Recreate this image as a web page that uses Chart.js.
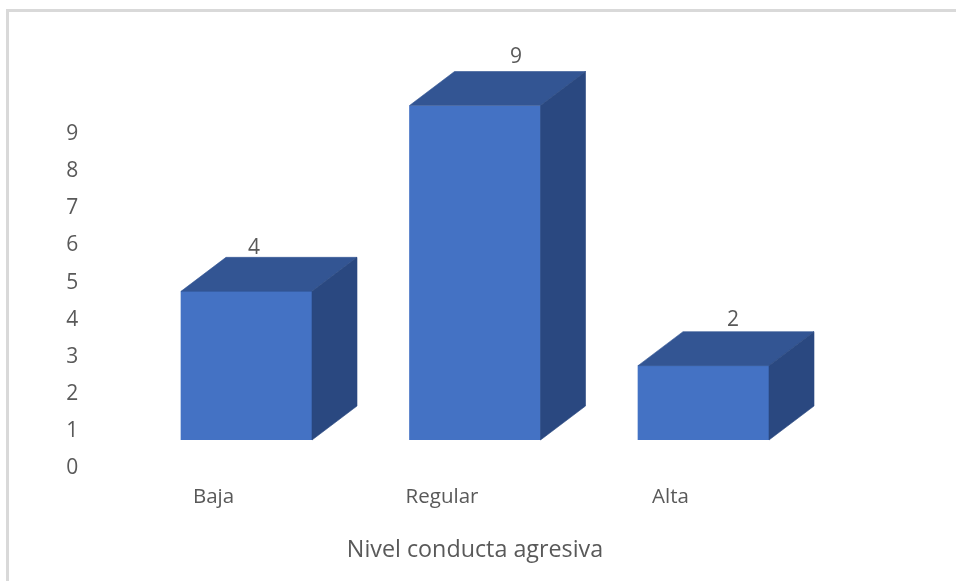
<!DOCTYPE html>
<html lang="en">
<head>
  <meta charset="UTF-8" />
  <title>Nivel conducta agresiva</title>
  <script src="https://cdn.jsdelivr.net/npm/chart.js"></script>
  <style>
    body { margin: 0; background-color: #fff; }
    /* only the top and left edges of the frame show in the picture */
    .frame {
      position: absolute;
      left: 6px;
      top: 9px;
      right: 0;
      bottom: 0;
      border-top: 3px solid #d9d9d9;
      border-left: 3px solid #d9d9d9;
    }
    #chart { position: absolute; left: 0; top: 0; }
  </style>
</head>
<body>
  <div class="frame"></div>
  <canvas id="chart" width="956" height="581"></canvas>

  <script>
    const categories = ["Baja", "Regular", "Alta"];
    const values = [4, 9, 2];
    const axisTitle = "Nivel conducta agresiva";

    const textColor = "#595959";
    const fontFamily = "'Open Sans', sans-serif";

    // Draws the top and side faces of each bar and the value above it
    const bar3d = {
      id: "bar3d",
      afterDatasetsDraw(chart, args, opts) {
        const ctx = chart.ctx;
        chart.getDatasetMeta(0).data.forEach((bar, i) => {
          const left = bar.x - bar.width / 2;
          const right = bar.x + bar.width / 2;
          const dx = opts.depthX, dy = opts.depthY;
          ctx.lineWidth = 0.6;

          ctx.fillStyle = ctx.strokeStyle = opts.topColor;
          ctx.beginPath();
          ctx.moveTo(left, bar.y);
          ctx.lineTo(left + dx, bar.y - dy);
          ctx.lineTo(right + dx, bar.y - dy);
          ctx.lineTo(right, bar.y);
          ctx.closePath();
          ctx.fill();
          ctx.stroke();

          ctx.fillStyle = ctx.strokeStyle = opts.sideColor;
          ctx.beginPath();
          ctx.moveTo(right, bar.y);
          ctx.lineTo(right + dx, bar.y - dy);
          ctx.lineTo(right + dx, bar.base - dy);
          ctx.lineTo(right, bar.base);
          ctx.closePath();
          ctx.fill();
          ctx.stroke();

          ctx.fillStyle = textColor;
          ctx.font = "21px " + fontFamily;
          ctx.textAlign = "center";
          ctx.textBaseline = "middle";
          const off = opts.labelOffsets[i];
          ctx.fillText(values[i], bar.x + off[0], bar.y + off[1]);
        });
      }
    };

    new Chart(document.getElementById("chart"), {
      type: "bar",
      data: {
        labels: categories,
        datasets: [{
          data: values,
          backgroundColor: "#4472c4",
          barThickness: 131
        }]
      },
      plugins: [bar3d],
      options: {
        responsive: false,
        animation: false,
        layout: { padding: { top: 105.5, right: 138.25 } },
        plugins: {
          legend: { display: false },
          tooltip: { enabled: false },
          bar3d: {
            depthX: 45,
            depthY: 34,
            topColor: "#335593",
            sideColor: "#2a4880",
            labelOffsets: [[7.5, -43.5], [41, -48], [29.5, -45.5]]
          }
        },
        scales: {
          x: {
            grid: { display: false },
            border: { display: false },
            afterFit: s => { s.height = 141; },
            ticks: {
              color: textColor,
              font: { family: fontFamily, size: 20.5 },
              padding: 37,
              labelOffset: -33,
              maxRotation: 0
            },
            title: {
              display: true,
              text: axisTitle,
              color: textColor,
              font: { family: fontFamily, size: 23.3 },
              padding: { top: 0, bottom: 17 }
            }
          },
          y: {
            min: 0,
            max: 9,
            grid: { display: false },
            border: { display: false },
            afterFit: s => { s.width = 132.25; },
            ticks: {
              stepSize: 1,
              color: textColor,
              font: { family: fontFamily, size: 21 },
              padding: 46,
              labelOffset: 28.5
            }
          }
        }
      }
    });
  </script>
</body>
</html>
